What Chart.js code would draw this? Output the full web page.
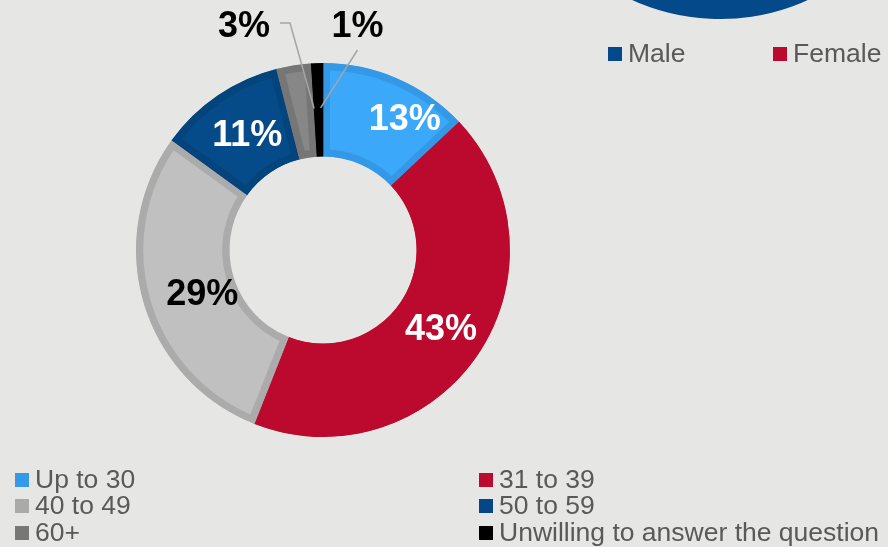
<!DOCTYPE html>
<html>
<head>
<meta charset="utf-8">
<script src="https://cdn.jsdelivr.net/npm/chart.js@4/dist/chart.umd.min.js"></script>
<style>
  html,body{margin:0;padding:0;}
  body{width:888px;height:547px;overflow:hidden;background:#e6e6e4;position:relative;
       font-family:"Liberation Sans",Arial,sans-serif;}
  #donut{position:absolute;left:0;top:0;}
  #pieWrap{position:absolute;left:507px;top:-407px;width:426px;height:426px;}
  .leg{position:absolute;display:flex;align-items:center;height:27px;font-size:26.5px;color:#595959;white-space:nowrap;}
  .sw{width:14px;height:14px;margin-right:6px;flex:none;}
</style>
</head>
<body>
<div id="pieWrap"><canvas id="pie" width="426" height="426"></canvas></div>
<canvas id="donut" width="888" height="547"></canvas>
<div id="legends"></div>
<script>
// ---- data ----
const categories = ['Up to 30', '31 to 39', '40 to 49', '50 to 59', '60+', 'Unwilling to answer the question'];
const shares = [13, 43, 29, 11, 3, 1];
const genderCategories = ['Male', 'Female'];
const genderShares = [64, 36];

// ---- styles ----
const fillColors   = ['#3ca8fa', '#bb0a2e', '#c0c0c0', '#064b89', '#878787', '#000000'];
const borderColors = ['#3399e6', '#bb0a2e', '#ababab', '#03447d', '#767676', '#000000'];
const legendColors = ['#3399e8', '#bb0a2e', '#aaaaaa', '#054686', '#777777', '#000000'];
const genderColors = ['#044a8a', '#bb0a2e'];

// label layout (nudges relative to slice centre / chart centre)
const labelLayout = [
  {color:'#ffffff', dx:26, dy:-4},
  {color:'#ffffff', dx:2, dy:-2},
  {color:'#000000', dx:14, dy:3},
  {color:'#ffffff', dx:3, dy:-1},
  {color:'#000000', outside:true, tx:-79, ty:-226, line:[[36,-1],[46,-1]], ex:13, ey:-3},
  {color:'#000000', outside:true, tx:34.5, ty:-226, line:[[0,26]], ex:2, ey:-2}
];

const pctLabels = {
  id:'pctLabels',
  afterDraw(chart){
    const ctx = chart.ctx;
    const meta = chart.getDatasetMeta(0);
    const capHalf = 13;
    meta.data.forEach((arc,i)=>{
      const p = arc.getProps(['x','y','startAngle','endAngle','innerRadius','outerRadius'], true);
      const mid = (p.startAngle + p.endAngle)/2;
      const r = (p.innerRadius + p.outerRadius)/2;
      const ax = p.x + Math.cos(mid)*r, ay = p.y + Math.sin(mid)*r;
      const L = labelLayout[i];
      const text = shares[i] + '%';
      ctx.save();
      ctx.font = 'bold 36px "Liberation Sans", Arial, sans-serif';
      ctx.textAlign = 'center';
      ctx.textBaseline = 'alphabetic';
      ctx.fillStyle = L.color;
      if (L.outside){
        const tx = p.x + L.tx, ty = p.y + L.ty;
        ctx.strokeStyle = '#a5a5a5';
        ctx.lineWidth = 1.5;
        ctx.beginPath();
        L.line.forEach((pt,k)=>{
          if(k===0) ctx.moveTo(tx+pt[0], ty+pt[1]); else ctx.lineTo(tx+pt[0], ty+pt[1]);
        });
        ctx.lineTo(ax + L.ex, ay + L.ey);
        ctx.stroke();
        ctx.fillText(text, tx, ty + capHalf);
      } else {
        ctx.fillText(text, ax + L.dx, ay + L.dy + capHalf);
      }
      ctx.restore();
    });
  }
};

new Chart(document.getElementById('donut'), {
  type:'doughnut',
  data:{
    labels:categories,
    datasets:[{
      data:shares,
      backgroundColor:fillColors,
      borderColor:borderColors,
      borderWidth:7,
      borderAlign:'inner',
      hoverBorderWidth:0
    }]
  },
  options:{
    responsive:false,
    animation:false,
    events:[],
    cutout:'50%',
    layout:{padding:{left:136, top:63, right:378, bottom:110}},
    plugins:{legend:{display:false}, tooltip:{enabled:false}}
  },
  plugins:[pctLabels]
});

new Chart(document.getElementById('pie'), {
  type:'pie',
  data:{
    labels:genderCategories,
    datasets:[{data:genderShares, backgroundColor:genderColors, borderWidth:0}]
  },
  options:{
    responsive:false,
    animation:false,
    events:[],
    layout:{padding:0},
    plugins:{legend:{display:false}, tooltip:{enabled:false}}
  }
});

// ---- legends (HTML text) ----
const legendBox = document.getElementById('legends');
function addLegend(text, color, left, top){
  const d = document.createElement('div');
  d.className = 'leg';
  d.style.left = left + 'px';
  d.style.top = top + 'px';
  const s = document.createElement('span');
  s.className = 'sw';
  s.style.background = color;
  d.appendChild(s);
  d.appendChild(document.createTextNode(text));
  legendBox.appendChild(d);
}
const colLeft = [15, 479];
const rowTop = [466, 492, 519];
categories.forEach((c,i)=>{
  addLegend(c, legendColors[i], colLeft[i%2], rowTop[Math.floor(i/2)]);
});
const gLeft = [608, 773];
genderCategories.forEach((g,i)=>{
  addLegend(g, genderColors[i], gLeft[i], 40);
});
</script>
</body>
</html>
